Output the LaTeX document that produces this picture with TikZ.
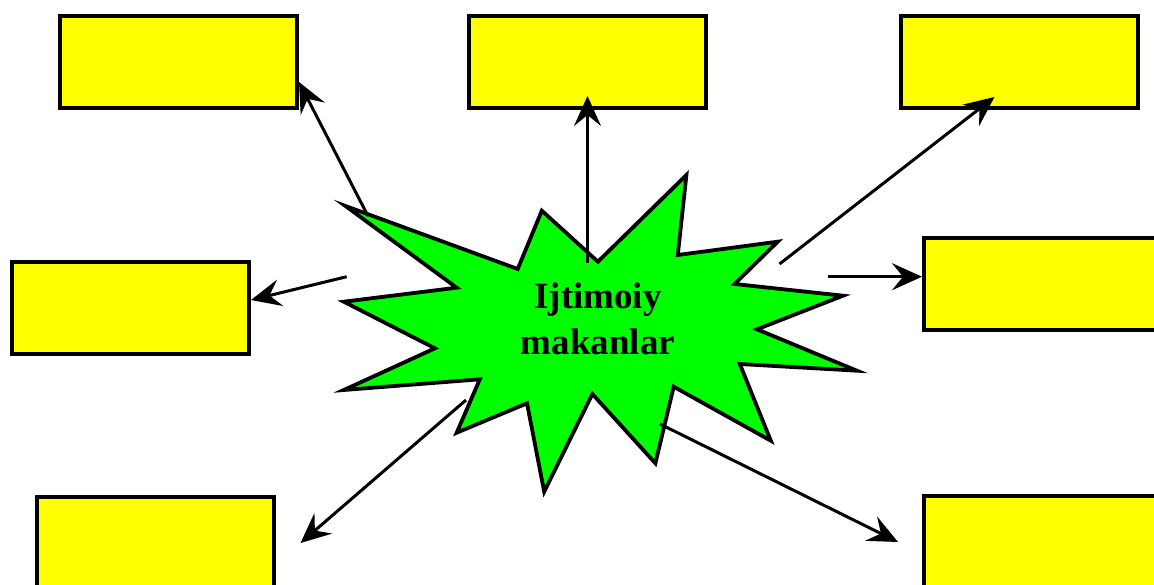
\documentclass[tikz,border=0pt]{standalone}
\usepackage{fontspec}
\setmainfont{Liberation Serif}
\usetikzlibrary{arrows.meta}
\definecolor{boxyellow}{RGB}{255,255,0}
\definecolor{stargreen}{RGB}{0,255,0}
\begin{document}
\begin{tikzpicture}[x=1pt,y=-1pt,
  box/.style={draw,fill=boxyellow,line width=4pt,minimum width=237pt,minimum height=92pt,inner sep=0pt},
  link/.style={line width=3pt,-{Stealth[length=30pt,width=27pt,inset=11pt]}}]
\useasboundingbox (0,0) rectangle (1154,584);
\node[box] (tl) at (178.5,62) {};
\node[box] (tc) at (587.5,62) {};
\node[box] (tr) at (1019,62) {};
\node[box] (ml) at (130.5,308) {};
\node[box] (mr) at (1042.5,284) {};
\node[box] (bl) at (155,543) {};
\node[box] (br) at (1042.5,542) {};
\draw[line width=3.8pt,fill=stargreen,line join=miter]
  (345.5,206) -- (517.7,269) -- (541.8,210.7) -- (597.9,261.7) -- (686.4,175) -- (677.8,255)
  -- (777.7,241.7) -- (734.6,284) -- (843,295.7) -- (757,329.3) -- (856.9,370.7) -- (739.8,364)
  -- (770.8,440.7) -- (673.7,386.7) -- (655.4,463.3) -- (592.4,394) -- (544.2,491.7) -- (527,403.3)
  -- (456.7,432.7) -- (479.8,379.3) -- (343.8,390) -- (435,348.3) -- (343.8,301.7) -- (456.7,287.7)
  -- cycle;
\node[align=center,font=\fontsize{37}{46}\selectfont\bfseries] (star) at (598,318.5) {Ijtimoiy\\makanlar};
\coordinate (s1) at (368,216);
\coordinate (s2) at (587.5,263);
\coordinate (s3) at (779.5,264);
\coordinate (s4) at (828,276.7);
\coordinate (s5) at (346.7,276.7);
\coordinate (s6) at (466,400);
\coordinate (s7) at (660,424);
\coordinate (e1) at ([yshift=-20pt]tl.east);
\coordinate (e2) at ([yshift=-34pt]tc.center);
\coordinate (e3) at ([shift={(-24.5pt,-35pt)}]tr.center);
\coordinate (e4) at ([yshift=7.3pt]mr.west);
\coordinate (e5) at ([yshift=8pt]ml.east);
\coordinate (e6) at ([xshift=25pt]bl.east);
\coordinate (e7) at ([xshift=-24pt]br.west);
\draw[link] (s1) -- (e1);
\draw[link] (s2) -- (e2);
\draw[link] (s3) -- (e3);
\draw[link] (s4) -- (e4);
\draw[link] (s5) -- (e5);
\draw[link] (s6) -- (e6);
\draw[link] (s7) -- (e7);
\end{tikzpicture}
\end{document}
